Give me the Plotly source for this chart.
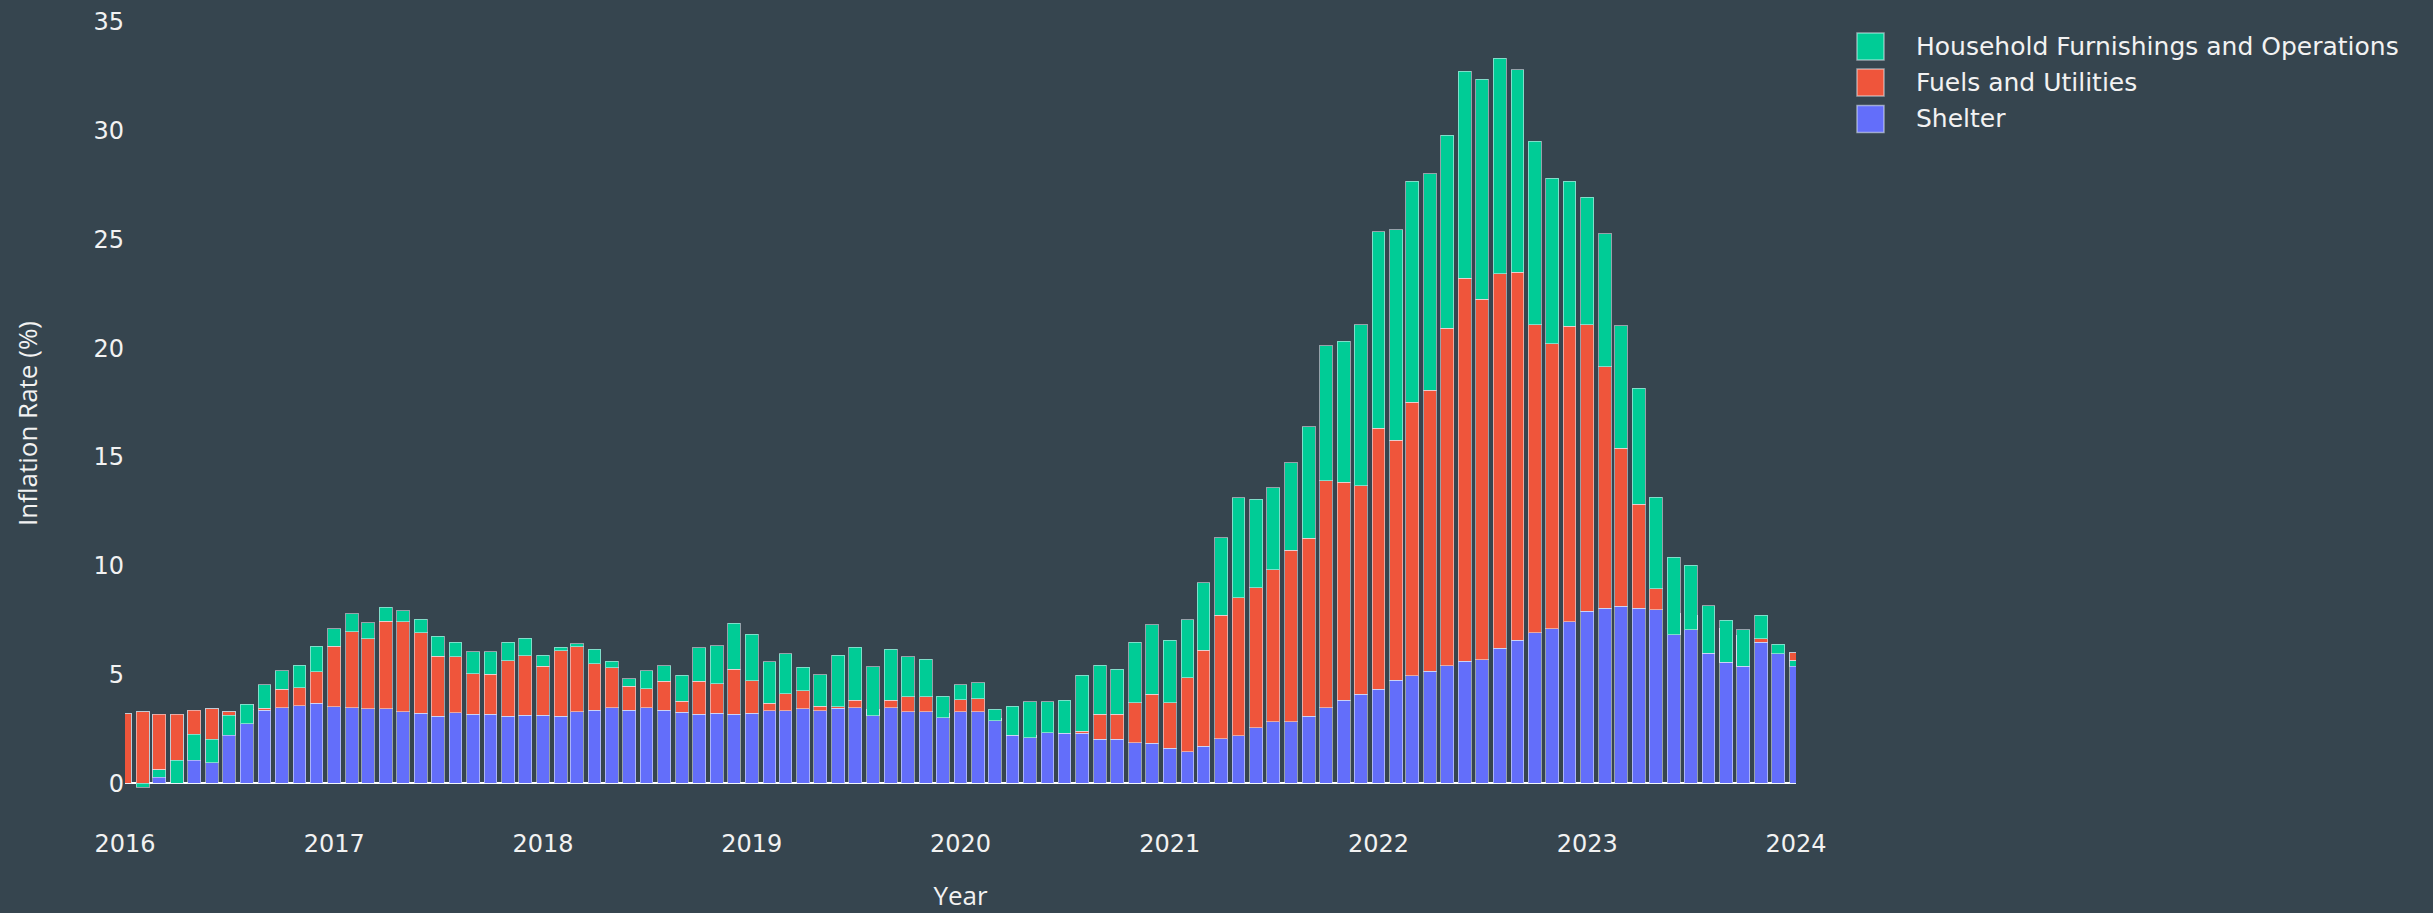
import pandas as pd
import plotly.graph_objects as go

# Monthly categories (first of each month), Jan 2016 .. Jan 2024
months = pd.date_range("2016-01-01", "2024-01-01", freq="MS")

shelter = [
    3.21, 3.29, 3.19, 3.18, 3.37, 3.44, 3.29, 3.40, 3.37, 3.49, 3.58, 3.68,
    3.52, 3.48, 3.43, 3.43, 3.29, 3.22, 3.09, 3.25, 3.19, 3.19, 3.09, 3.14,
    3.14, 3.09, 3.29, 3.37, 3.49, 3.37, 3.49, 3.37, 3.28, 3.19, 3.22, 3.19,
    3.22, 3.34, 3.34, 3.43, 3.34, 3.45, 3.49, 3.40, 3.49, 3.29, 3.29, 3.20,
    3.29, 3.29, 3.00, 2.60, 2.20, 2.40, 2.35, 2.30, 2.04, 2.04, 1.88, 1.84,
    1.61, 1.45, 1.71, 2.05, 2.19, 2.56, 2.83, 2.83, 3.09, 3.49, 3.83, 4.09,
    4.33, 4.75, 4.96, 5.15, 5.41, 5.61, 5.68, 6.21, 6.59, 6.93, 7.10, 7.43,
    7.91, 8.06, 8.15, 8.06, 7.99, 7.82, 7.74, 7.34, 7.14, 6.78, 6.50, 5.97,
    6.00,
]

fuels_utilities = [
    -3.21, -3.29, -2.55, -2.11, -1.11, -1.41, -0.15, 0.24, 0.08, 0.83, 0.82, 1.45,
    2.79, 3.50, 3.23, 4.03, 4.14, 3.70, 2.76, 2.57, 1.86, 1.83, 2.55, 2.74,
    2.25, 3.00, 2.99, 2.14, 1.82, 1.10, 0.87, 1.32, 0.50, 1.50, 1.37, 2.06,
    1.51, 0.34, 0.79, 0.83, 0.21, 0.07, 0.34, -0.28, 0.34, 0.69, 0.69, -0.17,
    0.56, 0.61, -0.12, -0.38, -0.09, -0.07, -0.05, 0.10, 1.13, 1.13, 1.84, 2.25,
    2.11, 3.40, 4.42, 5.68, 6.34, 6.43, 7.00, 7.89, 8.18, 10.43, 10.02, 9.59,
    11.99, 11.02, 12.56, 12.92, 15.50, 17.60, 16.57, 17.22, 16.91, 14.15, 13.11, 13.57,
    13.17, 11.09, 7.26, 4.78, 0.96, -0.99, -0.67, -1.35, -1.56, -1.40, 0.15, 0.00,
    -0.37,
]

household_furnishings = [
    0.00, -0.18, -0.36, -1.07, -1.19, -1.08, -0.92, -0.89, 1.08, 0.86, 1.04, 1.18,
    0.81, 0.83, 0.72, 0.63, 0.50, 0.63, 0.92, 0.67, 1.00, 1.03, 0.85, 0.80,
    0.51, 0.16, 0.15, 0.65, 0.31, 0.34, 0.82, 0.73, 1.20, 1.54, 1.73, 2.12,
    2.12, 1.92, 1.84, 1.08, 1.44, 2.38, 2.42, 2.24, 2.33, 1.84, 1.72, 0.98,
    0.68, 0.72, 0.52, 1.33, 1.64, 1.42, 1.53, 2.58, 2.27, 2.08, 2.76, 3.21,
    2.86, 2.68, 3.09, 3.56, 4.59, 4.06, 3.75, 4.01, 5.13, 6.20, 6.46, 7.40,
    9.03, 9.67, 10.14, 9.95, 8.88, 9.51, 10.11, 9.89, 9.30, 8.42, 7.61, 6.66,
    5.86, 6.11, 5.62, 5.33, 4.20, 3.56, 2.96, 2.17, 1.92, 1.69, 1.07, 0.43,
    -0.24,
]

series_names = ["Shelter", "Fuels and Utilities", "Household Furnishings and Operations"]
series_colors = ["#636EFA", "#EF553B", "#00CC96"]
series_values = [shelter, fuels_utilities, household_furnishings]

BG = "#36454F"
TEXT = "#F2F2F2"
OUTLINE = "rgba(229,236,246,0.55)"
TICK_FONT = "DejaVu Sans"

fig = go.Figure()
for name, color, vals in zip(series_names, series_colors, series_values):
    fig.add_trace(go.Bar(x=months, y=vals, name=name, marker_color=color,
                         marker_line_color=OUTLINE, marker_line_width=1,
                         showlegend=False))

# Legend drawn with large swatches (top entry = last trace, as in a stacked-bar legend)
legend_rows_px = [46.5, 82.5, 119.0]   # vertical centres in pixels from top
plot_top, plot_bottom, plot_left, plot_w = 20, 827, 125, 1671
plot_h = plot_bottom - plot_top
sw_x0, sw_x1, txt_x = 1857, 1884, 1914
half = 13.5
for row, idx in zip(legend_rows_px, [2, 1, 0]):
    yc = (plot_bottom - row) / plot_h
    fig.add_shape(type="rect", xref="paper", yref="paper",
                  x0=(sw_x0 - plot_left) / plot_w, x1=(sw_x1 - plot_left) / plot_w,
                  y0=yc - half / plot_h, y1=yc + half / plot_h,
                  fillcolor=series_colors[idx], line=dict(color=OUTLINE, width=1.5),
                  layer="above")
    fig.add_annotation(xref="paper", yref="paper",
                       x=(txt_x - plot_left) / plot_w, y=yc,
                       xanchor="left", yanchor="middle", showarrow=False,
                       text=series_names[idx],
                       font=dict(family=TICK_FONT, size=25, color=TEXT))

fig.update_layout(
    template="plotly",
    barmode="stack",
    width=2433,
    height=913,
    paper_bgcolor=BG,
    plot_bgcolor=BG,
    margin=dict(l=125, r=637, t=20, b=86),
    font=dict(family=TICK_FONT, size=24, color=TEXT),
    xaxis=dict(
        range=["2016-01-01", "2024-01-01"],
        tick0="2016-01-01",
        dtick="M12",
        tickformat="%Y",
        showgrid=False,
        zeroline=False,
        showline=False,
        automargin=False,
        tickfont=dict(family=TICK_FONT, size=24, color=TEXT),
        title=dict(text="Year", font=dict(family="Open Sans", size=26, color=TEXT), standoff=30),
    ),
    yaxis=dict(
        range=[-2.0, 35.08],
        dtick=5,
        tick0=0,
        showgrid=False,
        zeroline=True,
        zerolinecolor="white",
        zerolinewidth=2,
        showline=False,
        automargin=False,
        tickfont=dict(family=TICK_FONT, size=24, color=TEXT),
        title=dict(text="Inflation Rate (%)", font=dict(family="Open Sans", size=26, color=TEXT), standoff=48),
    ),
)

fig.write_html(
    "out.html",
    config={"displayModeBar": False},
    post_script="document.body.style.margin='0';document.body.style.background='#36454F';",
)
